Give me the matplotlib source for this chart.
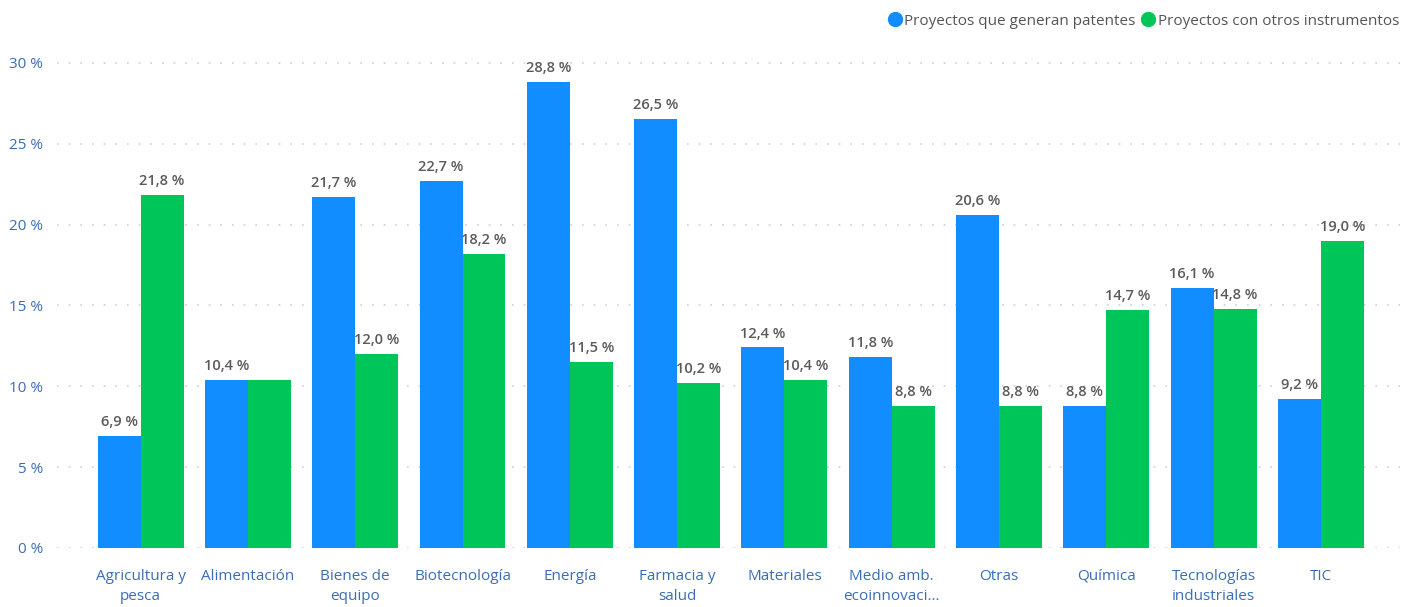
import numpy as np
import matplotlib.pyplot as plt

categories = ["Agricultura y\npesca", "Alimentación", "Bienes de\nequipo", "Biotecnología",
              "Energía", "Farmacia y\nsalud", "Materiales", "Medio amb.\necoinnovaci...",
              "Otras", "Química", "Tecnologías\nindustriales", "TIC"]
patentes = [6.9, 10.4, 21.7, 22.7, 28.8, 26.5, 12.4, 11.8, 20.6, 8.8, 16.1, 9.2]
otros = [21.8, 10.4, 12.0, 18.2, 11.5, 10.2, 10.4, 8.8, 8.8, 14.7, 14.8, 19.0]
yticks = [0, 5, 10, 15, 20, 25, 30]

plt.rcParams['font.family'] = ['Open Sans', 'DejaVu Sans']

blue = '#118DFF'
green = '#00C65A'
axis_col = '#3a6db5'
lab_col = '#5a5a5a'

fig = plt.figure(figsize=(14.17, 6.07), dpi=100)
ax = fig.add_axes([0.0402, 0.0972, 0.948, 0.826])

x = np.arange(len(categories))
w = 0.4
b1 = ax.bar(x - w/2, patentes, w, color=blue, zorder=3)
b2 = ax.bar(x + w/2, otros, w, color=green, zorder=3)

def fmt(v):
    return ("%.1f %%" % v).replace('.', ',')

for i in range(len(categories)):
    ax.annotate(fmt(patentes[i]), (x[i] - w/2, patentes[i]), xytext=(0, 5),
                textcoords='offset points', ha='center', va='bottom',
                fontsize=10.5, color=lab_col, fontweight='semibold')
    # label hidden when it would collide with the neighbouring one
    if abs(otros[i] - patentes[i]) >= 1:
        ax.annotate(fmt(otros[i]), (x[i] + w/2, otros[i]), xytext=(0, 5),
                    textcoords='offset points', ha='center', va='bottom',
                    fontsize=10.5, color=lab_col, fontweight='semibold')

ax.set_xlim(-0.78, 11.74)
ax.set_ylim(0, 31)
ax.set_yticks(yticks)
ax.set_yticklabels([f"{t} %" for t in yticks], fontsize=11, color=axis_col)
ax.set_xticks(x)
ax.set_xticklabels(categories, fontsize=11, color=axis_col, linespacing=1.45)
ax.tick_params(axis='both', length=0)
ax.tick_params(axis='y', pad=10)
ax.tick_params(axis='x', pad=15)
ax.grid(axis='y', color='#d0d0d0', linestyle=(0, (1, 6)), linewidth=1.2, zorder=0)
for s in ax.spines.values():
    s.set_visible(False)

h1 = plt.Line2D([], [], marker='o', color=blue, linestyle='', markersize=10)
h2 = plt.Line2D([], [], marker='o', color=green, linestyle='', markersize=10)
fig.legend([h1, h2], ["Proyectos que generan patentes", "Proyectos con otros instrumentos"],
           loc='upper right', bbox_to_anchor=(0.997, 1.0), ncol=2, frameon=False,
           fontsize=11, handlelength=0.7, handletextpad=0.25, columnspacing=0.5,
           labelcolor='#555555')

fig.savefig('out.png', dpi=100)
